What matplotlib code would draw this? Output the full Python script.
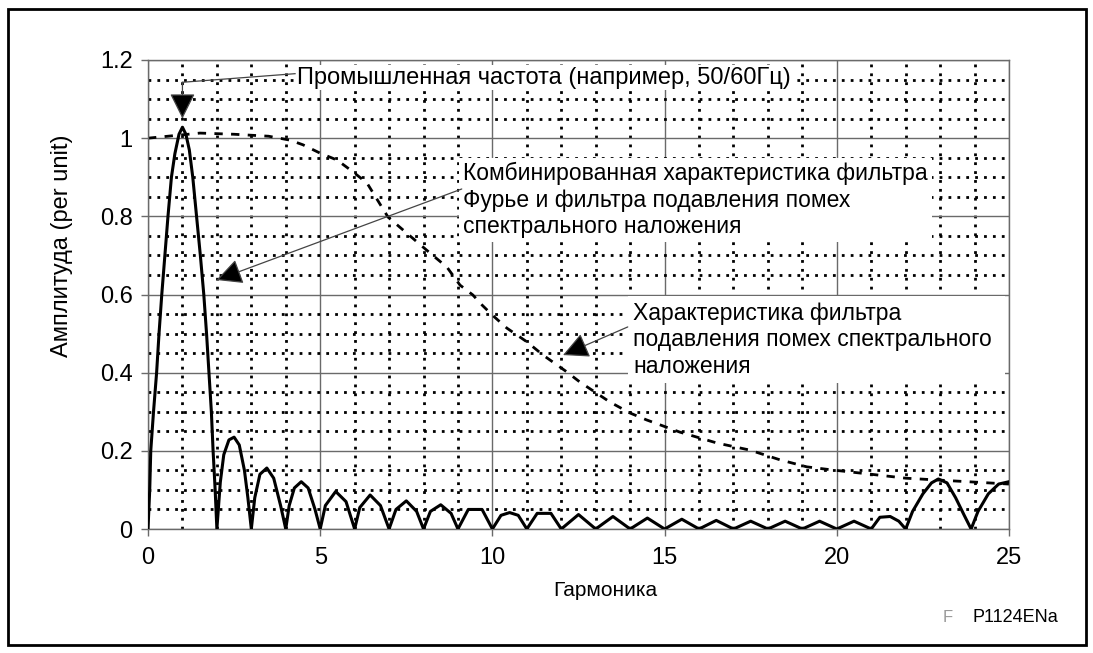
import matplotlib
matplotlib.use("Agg")
import matplotlib.pyplot as plt
from matplotlib.patches import Rectangle
from matplotlib.ticker import MultipleLocator, FixedLocator

plt.rcParams['font.family'] = ['Liberation Sans', 'DejaVu Sans']

# --- Data ---
# Combined response (Fourier + anti-aliasing filter), solid line
comb_x = [0.0, 0.05, 0.08, 0.16, 0.25, 0.32, 0.40, 0.49, 0.58, 0.68, 0.78, 0.90, 1.00,
          1.10, 1.20, 1.30, 1.41, 1.52, 1.62, 1.70, 1.77, 1.84, 1.89, 1.95, 2.00,
          2.10, 2.20, 2.35, 2.50, 2.65, 2.80, 2.90, 3.00,
          3.10, 3.25, 3.45, 3.65, 3.85, 4.00,
          4.10, 4.25, 4.45, 4.65, 4.85, 5.00,
          5.15, 5.45, 5.75, 6.00,
          6.15, 6.45, 6.75, 7.00,
          7.20, 7.50, 7.80, 8.00,
          8.20, 8.50, 8.80, 9.00,
          9.30, 9.70, 10.00,
          10.25, 10.50, 10.75, 11.00,
          11.30, 11.70, 12.00,
          12.50, 13.00,
          13.50, 14.00,
          14.50, 15.00,
          15.50, 16.00,
          16.50, 17.00,
          17.50, 18.00,
          18.50, 19.00,
          19.50, 20.00,
          20.50, 21.00,
          21.25, 21.55, 21.80, 22.00,
          22.20, 22.50, 22.75, 22.95, 23.20, 23.45, 23.70, 23.90,
          24.10, 24.40, 24.70, 25.00]
comb_y = [0.0, 0.10, 0.20, 0.30, 0.40, 0.50, 0.60, 0.70, 0.80, 0.90, 0.96, 1.01, 1.028,
          1.01, 0.97, 0.90, 0.80, 0.70, 0.60, 0.50, 0.40, 0.30, 0.20, 0.10, 0.00,
          0.12, 0.19, 0.228, 0.235, 0.215, 0.15, 0.08, 0.00,
          0.08, 0.14, 0.156, 0.13, 0.06, 0.00,
          0.06, 0.105, 0.121, 0.105, 0.05, 0.00,
          0.06, 0.096, 0.07, 0.00,
          0.055, 0.087, 0.06, 0.00,
          0.05, 0.072, 0.045, 0.00,
          0.045, 0.062, 0.04, 0.00,
          0.05, 0.05, 0.00,
          0.035, 0.042, 0.035, 0.00,
          0.04, 0.04, 0.00,
          0.037, 0.00,
          0.032, 0.00,
          0.028, 0.00,
          0.025, 0.00,
          0.022, 0.00,
          0.02, 0.00,
          0.02, 0.00,
          0.02, 0.00,
          0.02, 0.00,
          0.03, 0.032, 0.02, 0.00,
          0.045, 0.09, 0.118, 0.128, 0.118, 0.08, 0.035, 0.00,
          0.045, 0.09, 0.115, 0.121]

# Anti-aliasing filter response, dashed line
aa_x = [0.0, 1.51, 2.5, 3.5, 4.12, 4.50, 4.99, 5.49, 5.95, 6.36, 6.97, 8.19, 8.68, 9.06,
        9.43, 9.70, 9.99, 10.42, 11.00, 11.47, 12.16, 12.54, 13.41, 13.99, 14.48,
        15.44, 16.52, 17.47, 18.35, 19.13, 19.88, 21.0, 22.0, 23.0, 24.0, 25.0]
aa_y = [1.0, 1.013, 1.01, 1.005, 0.995, 0.983, 0.962, 0.944, 0.914, 0.885, 0.798, 0.706,
        0.670, 0.624, 0.599, 0.573, 0.548, 0.514, 0.479, 0.445, 0.402, 0.376, 0.325,
        0.297, 0.279, 0.248, 0.220, 0.202, 0.177, 0.159, 0.151, 0.14, 0.13, 0.125,
        0.12, 0.115]

x_ticks = [0, 5, 10, 15, 20, 25]
y_ticks = [0, 0.2, 0.4, 0.6, 0.8, 1.0, 1.2]
y_tick_labels = ["0", "0.2", "0.4", "0.6", "0.8", "1", "1.2"]

label_fund = "Промышленная частота (например, 50/60Гц)"
label_comb = "Комбинированная характеристика фильтра\nФурье и фильтра подавления помех\nспектрального наложения"
label_aa = "Характеристика фильтра\nподавления помех спектрального\nналожения"
x_label = "Гармоника"
y_label = "Амплитуда (per unit)"

# --- Figure ---
fig = plt.figure(figsize=(10.93, 6.53), dpi=100)
ax = fig.add_axes([148/1093, 1-529/653, (1009-148)/1093, (529-60)/653])

ax.set_xlim(0, 25)
ax.set_ylim(0, 1.2)

ax.xaxis.set_major_locator(FixedLocator(x_ticks))
ax.yaxis.set_major_locator(FixedLocator(y_ticks))
ax.set_yticklabels(y_tick_labels)
ax.xaxis.set_minor_locator(MultipleLocator(1))
ax.yaxis.set_minor_locator(MultipleLocator(0.05))

ax.grid(which='minor', color='black', linestyle=(0, (1.0, 2.2)), linewidth=2.0, zorder=0)
ax.grid(which='major', color='#6a6a6a', linestyle='-', linewidth=1.0, zorder=0.5)
ax.set_axisbelow(True)

ax.tick_params(which='major', direction='out', length=5, width=1, color='#6a6a6a',
               labelsize=17)
ax.tick_params(axis='x', which='major', pad=8)
ax.tick_params(axis='y', which='major', pad=6)
ax.tick_params(which='minor', length=0)
for s in ax.spines.values():
    s.set_color('#6a6a6a')
    s.set_linewidth(1.0)

# White background for the lower-right annotation box
ax.add_patch(Rectangle((13.93, 0.374), 24.88-13.93, 0.596-0.374, facecolor='white',
                       edgecolor='none', zorder=1))

ax.plot(aa_x, aa_y, color='black', linewidth=2.0, linestyle=(0, (3, 3)), zorder=2)
ax.plot(comb_x, comb_y, color='black', linewidth=2.2, zorder=3, solid_joinstyle='round')

# Annotations
tsize = 16.5
ax.text(4.33, 1.155, label_fund, fontsize=17, va='center', ha='left', zorder=4,
        bbox=dict(facecolor='white', edgecolor='none', pad=1.0))
ax.text(9.14, 0.842, label_comb, fontsize=tsize, va='center', ha='left', zorder=4,
        linespacing=1.2, bbox=dict(facecolor='white', edgecolor='none', pad=3.0))
ax.text(14.08, 0.484, label_aa, fontsize=tsize, va='center', ha='left', zorder=4,
        linespacing=1.2)

line_col = '#444444'
arrow_kw = dict(arrowstyle='-|>,head_length=0.8,head_width=0.4', facecolor='black',
                edgecolor=line_col, lw=0.9, shrinkA=0, shrinkB=0, mutation_scale=20)
ax.plot([4.27, 1.0], [1.165, 1.143], color=line_col, lw=0.9, zorder=5)
ax.annotate("", xy=(1.0, 1.05), xytext=(1.0, 1.143), arrowprops=arrow_kw, zorder=5)
ax.annotate("", xy=(1.99, 0.637), xytext=(9.11, 0.87), arrowprops=arrow_kw, zorder=5)
ax.annotate("", xy=(12.05, 0.445), xytext=(13.93, 0.517), arrowprops=arrow_kw, zorder=5)

# Axis labels
fig.text(605/1093, 1-590/653, x_label, fontsize=15, ha='center', va='center')
fig.text(62/1093, 1-246/653, y_label, fontsize=17, ha='center', va='center', rotation=90)

# Corner code
fig.text(948/1093, 1-618/653, "F", fontsize=12, ha='center', va='center', color='#999999')
fig.text(972/1093, 1-617/653, "P1124ENa", fontsize=13, ha='left', va='center')

# Outer frame
fig.patches.append(Rectangle((8/1093, 1-645/653), (1086-8)/1093, (645-9)/653,
                             transform=fig.transFigure, facecolor='none',
                             edgecolor='black', linewidth=2.0))

fig.savefig("out.png", dpi=100)
